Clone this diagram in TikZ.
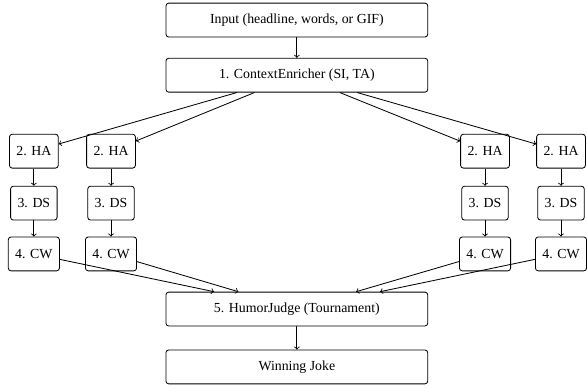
\documentclass[tikz,border=0pt]{standalone}
\usepackage{fontspec}
\setmainfont{Liberation Serif}
\begin{document}
\begin{tikzpicture}[semithick]
        \tikzstyle{every node}=[font=\normalsize]
        \tikzstyle{wide}=[draw, rounded corners=2pt, minimum width=6.65cm, minimum height=0.86cm]
        \tikzstyle{small}=[draw, rounded corners=2pt, minimum height=0.86cm, inner xsep=5pt]
        \useasboundingbox (0,0) rectangle (14.91,-9.855);

        \node[wide] (input) at (7.54,-0.51) {Input (headline, words, or GIF)};
        \node[wide] (enrich) at (7.54,-1.91) {1. ContextEnricher (SI, TA)};

        % four parallel chains
        \node[small] (ha1) at (0.86,-3.84) {2. HA};
        \node[small] (ha2) at (2.82,-3.84) {2. HA};
        \node[small] (ha3) at (12.32,-3.84) {2. HA};
        \node[small] (ha4) at (14.25,-3.84) {2. HA};

        \node[small] (ds1) at (0.86,-5.16) {3. DS};
        \node[small] (ds2) at (2.82,-5.16) {3. DS};
        \node[small] (ds3) at (12.32,-5.16) {3. DS};
        \node[small] (ds4) at (14.25,-5.16) {3. DS};

        \node[small] (cw1) at (0.86,-6.45) {4. CW};
        \node[small] (cw2) at (2.82,-6.45) {4. CW};
        \node[small] (cw3) at (12.32,-6.45) {4. CW};
        \node[small] (cw4) at (14.25,-6.45) {4. CW};

        \node[wide] (judge) at (7.54,-7.85) {5. HumorJudge (Tournament)};
        \node[wide] (joke) at (7.54,-9.32) {Winning Joke};

        \draw[->] (input) -- (enrich);
        \draw[->] (enrich) -- (ha1);
        \draw[->] (enrich) -- (ha2);
        \draw[->] (enrich) -- (ha3);
        \draw[->] (enrich) -- (ha4);

        \draw[->] (ha1) -- (ds1);
        \draw[->] (ha2) -- (ds2);
        \draw[->] (ha3) -- (ds3);
        \draw[->] (ha4) -- (ds4);

        \draw[->] (ds1) -- (cw1);
        \draw[->] (ds2) -- (cw2);
        \draw[->] (ds3) -- (cw3);
        \draw[->] (ds4) -- (cw4);

        \draw[->] (cw1) -- (judge);
        \draw[->] (cw2) -- (judge);
        \draw[->] (cw3) -- (judge);
        \draw[->] (cw4) -- (judge);

        \draw[->] (judge) -- (joke);
    \end{tikzpicture}
\end{document}
